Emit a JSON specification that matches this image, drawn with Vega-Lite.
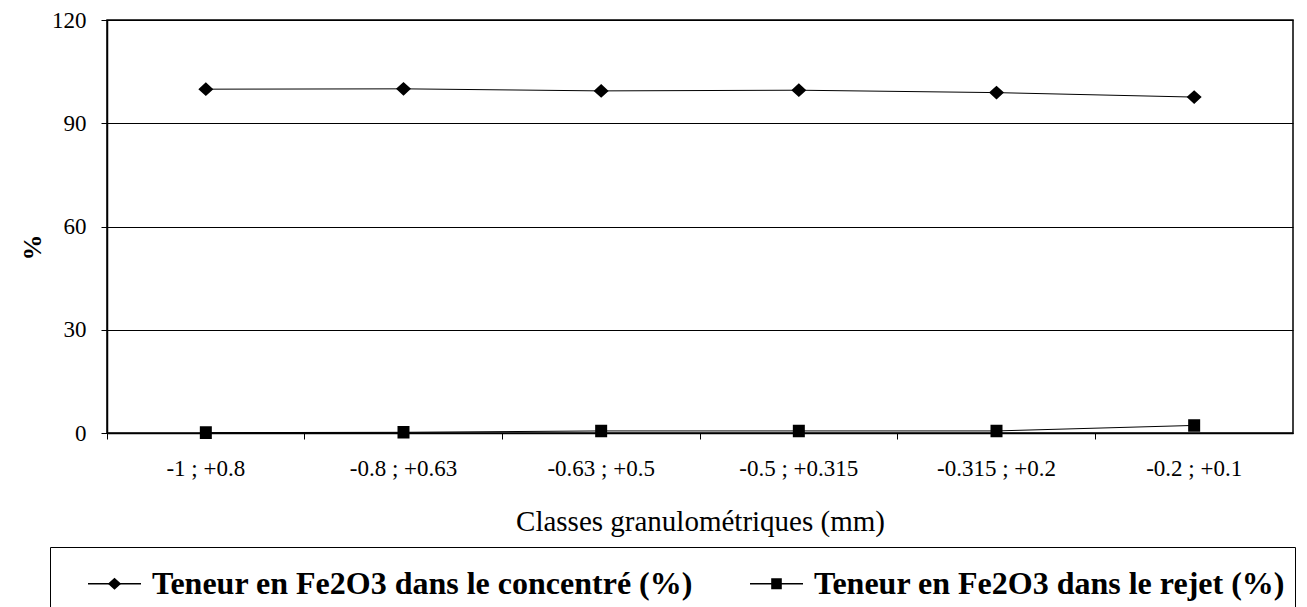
{
  "$schema": "https://vega.github.io/schema/vega-lite/v6.json",
  "autosize": "none",
  "width": 1186,
  "height": 413,
  "padding": {"left": 107, "top": 20, "right": 14, "bottom": 174},
  "background": "white",
  "config": {
    "font": "Liberation Serif, Times New Roman, DejaVu Serif, serif",
    "view": {"stroke": "black", "strokeWidth": 1.5}
  },
  "data": {
    "values": [
      {"classe": "-1 ; +0.8", "serie": "Teneur en Fe2O3 dans le concentré (%)", "valeur": 99.9},
      {"classe": "-0.8 ; +0.63", "serie": "Teneur en Fe2O3 dans le concentré (%)", "valeur": 100.0},
      {"classe": "-0.63 ; +0.5", "serie": "Teneur en Fe2O3 dans le concentré (%)", "valeur": 99.4},
      {"classe": "-0.5 ; +0.315", "serie": "Teneur en Fe2O3 dans le concentré (%)", "valeur": 99.6},
      {"classe": "-0.315 ; +0.2", "serie": "Teneur en Fe2O3 dans le concentré (%)", "valeur": 98.9},
      {"classe": "-0.2 ; +0.1", "serie": "Teneur en Fe2O3 dans le concentré (%)", "valeur": 97.6},
      {"classe": "-1 ; +0.8", "serie": "Teneur en Fe2O3 dans le rejet (%)", "valeur": 0.1},
      {"classe": "-0.8 ; +0.63", "serie": "Teneur en Fe2O3 dans le rejet (%)", "valeur": 0.2},
      {"classe": "-0.63 ; +0.5", "serie": "Teneur en Fe2O3 dans le rejet (%)", "valeur": 0.6},
      {"classe": "-0.5 ; +0.315", "serie": "Teneur en Fe2O3 dans le rejet (%)", "valeur": 0.6},
      {"classe": "-0.315 ; +0.2", "serie": "Teneur en Fe2O3 dans le rejet (%)", "valeur": 0.6},
      {"classe": "-0.2 ; +0.1", "serie": "Teneur en Fe2O3 dans le rejet (%)", "valeur": 2.2}
    ]
  },
  "encoding": {
    "x": {
      "field": "classe",
      "type": "nominal",
      "sort": null,
      "scale": {"type": "band", "paddingInner": 0, "paddingOuter": 0},
      "axis": {
        "title": "Classes granulométriques (mm)",
        "titleFont": "Liberation Serif, Times New Roman, DejaVu Serif, serif",
        "titleFontSize": 29,
        "titleFontWeight": "normal",
        "titleColor": "black",
        "titleBaseline": "alphabetic",
        "titleY": 97,
        "labelAngle": 0,
        "labelFont": "Liberation Serif, Times New Roman, DejaVu Serif, serif",
        "labelFontSize": 23,
        "labelColor": "black",
        "labelPadding": 18,
        "labelBaseline": "top",
        "bandPosition": 0,
        "ticks": true,
        "tickColor": "black",
        "tickSize": 6,
        "tickWidth": 1,
        "domainColor": "black",
        "domainWidth": 1.5,
        "grid": false
      }
    },
    "y": {
      "field": "valeur",
      "type": "quantitative",
      "scale": {"domain": [0, 120], "nice": false},
      "axis": {
        "title": "%",
        "titleFont": "Liberation Serif, Times New Roman, DejaVu Serif, serif",
        "titleFontSize": 26,
        "titleFontWeight": "bold",
        "titleColor": "black",
        "titleAngle": -90,
        "titleBaseline": "middle",
        "titleX": -75,
        "titleY": 227,
        "values": [0, 30, 60, 90, 120],
        "labelFont": "Liberation Serif, Times New Roman, DejaVu Serif, serif",
        "labelFontSize": 23,
        "labelColor": "black",
        "labelPadding": 15,
        "tickColor": "black",
        "tickSize": 6,
        "domainColor": "black",
        "domainWidth": 1.5,
        "grid": true,
        "gridColor": "black",
        "gridWidth": 1
      }
    }
  },
  "layer": [
    {
      "mark": {"type": "line", "strokeWidth": 1},
      "encoding": {
        "color": {
          "field": "serie",
          "type": "nominal",
          "sort": null,
          "scale": {"range": ["black", "black"]},
          "legend": {
            "title": null,
            "orient": "none",
            "legendX": -57,
            "legendY": 527,
            "direction": "horizontal",
            "columns": 2,
            "columnPadding": 28,
            "padding": 9,
            "fillColor": null,
            "strokeColor": null,
            "symbolType": "stroke",
            "symbolSize": 2809,
            "symbolOffset": 28,
            "symbolStrokeWidth": 1.5,
            "symbolStrokeColor": "black",
            "labelFont": "Liberation Serif, Times New Roman, DejaVu Serif, serif",
            "labelFontSize": 32,
            "labelFontWeight": "bold",
            "labelColor": "black",
            "labelOpacity": 0,
            "labelOffset": 10,
            "labelLimit": 0
          }
        }
      }
    },
    {
      "mark": {"type": "point", "filled": true, "color": "black", "opacity": 1, "size": 3600},
      "encoding": {
        "shape": {
          "field": "serie",
          "type": "nominal",
          "scale": {
            "domain": ["Teneur en Fe2O3 dans le concentré (%)", "Teneur en Fe2O3 dans le rejet (%)"],
            "range": [
              "M-1,0H1M0,-0.23L0.25,0L0,0.23L-0.25,0Z",
              "M-1,0H1M-0.2,-0.21H0.2V0.21H-0.2Z"
            ]
          },
          "legend": {
            "title": null,
            "orient": "none",
            "legendX": -57,
            "legendY": 527,
            "direction": "horizontal",
            "columns": 2,
            "columnPadding": 28,
            "padding": 9,
            "fillColor": null,
            "strokeColor": "black",
            "symbolSize": 2809,
            "symbolOffset": 28,
            "symbolFillColor": "black",
            "labelFont": "Liberation Serif, Times New Roman, DejaVu Serif, serif",
            "labelFontSize": 32,
            "labelFontWeight": "bold",
            "labelColor": "black",
            "labelOffset": 10,
            "labelLimit": 0
          }
        }
      }
    }
  ]
}
